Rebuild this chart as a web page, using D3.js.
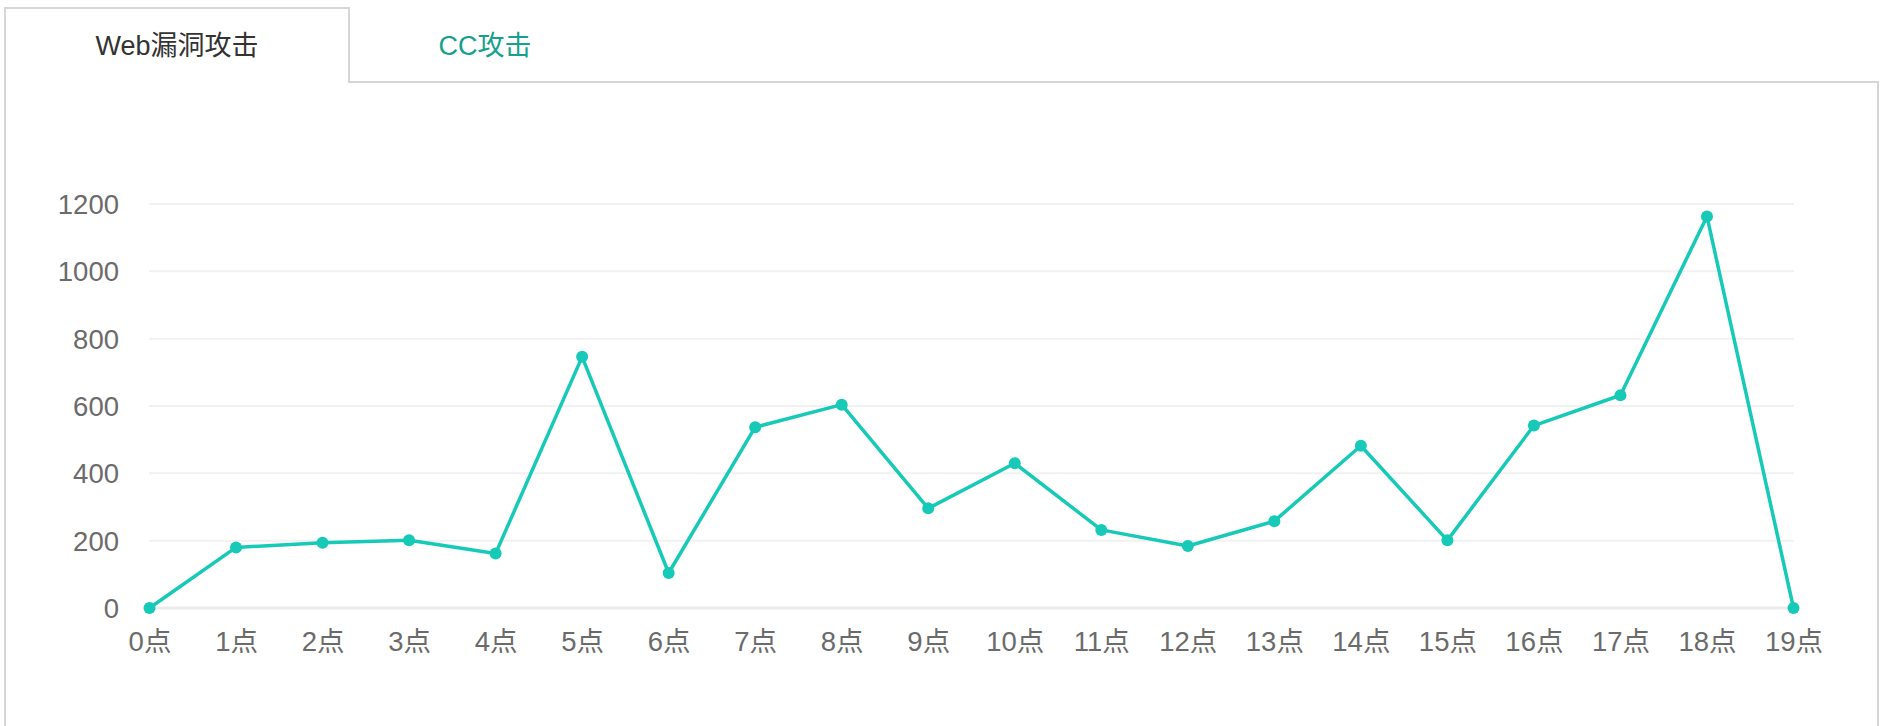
<!DOCTYPE html>
<html>
<head>
<meta charset="utf-8">
<script src="https://cdn.jsdelivr.net/npm/d3@7"></script>
<style>
  html, body { margin: 0; padding: 0; background: #fff; }
  svg { display: block; font-family: "Liberation Sans", Arial, "Noto Sans CJK SC", sans-serif; }
</style>
</head>
<body>
<svg id="chart" width="1882" height="726"></svg>
<script>
const tabs = ["Web漏洞攻击", "CC攻击"];
const categories = ["0点","1点","2点","3点","4点","5点","6点","7点","8点","9点","10点","11点","12点","13点","14点","15点","16点","17点","18点","19点"];
const values = [0, 180, 194, 201, 162, 746, 104, 537, 604, 296, 430, 232, 184, 258, 482, 201, 542, 632, 1163, 0];
const yTicks = [0, 200, 400, 600, 800, 1000, 1200];

const svg = d3.select("#chart");
const FONT = "\"Liberation Sans\", Arial, \"Noto Sans CJK SC\", sans-serif";

// tab frame
svg.append("path")
  .attr("d", "M5,726 L5,8 L349,8 L349,82 L1878,82 L1878,726")
  .attr("fill", "none")
  .attr("stroke", "#d6d6d6")
  .attr("stroke-width", 2);

svg.append("text").text(tabs[0])
  .attr("x", 177).attr("y", 46)
  .attr("text-anchor", "middle").attr("dominant-baseline", "central")
  .attr("font-size", 27).attr("fill", "#333");
svg.append("text").text(tabs[1])
  .attr("x", 485).attr("y", 46)
  .attr("text-anchor", "middle").attr("dominant-baseline", "central")
  .attr("font-size", 27).attr("fill", "#17a08b");

const x = d3.scalePoint().domain(categories).range([149.5, 1793.5]);
const y = d3.scaleLinear().domain([0, 1200]).range([608, 204]);

// gridlines
svg.append("g").selectAll("line").data(yTicks).join("line")
  .attr("x1", 149).attr("x2", 1794)
  .attr("y1", d => y(d)).attr("y2", d => y(d))
  .attr("stroke", d => d === 0 ? "#ebebeb" : "#f1f1f1")
  .attr("stroke-width", d => d === 0 ? 3 : 2);

// y axis labels
const yAxis = d3.axisLeft(y).tickValues(yTicks).tickFormat(d3.format("d")).tickSize(0).tickPadding(0);
const gy = svg.append("g").attr("transform", "translate(119,0)").call(yAxis);
gy.select(".domain").remove();
gy.selectAll("text").attr("font-size", 27.5).attr("fill", "#6b6b6b")
  .attr("font-family", FONT)
  .attr("dy", null).attr("dominant-baseline", "central").attr("text-anchor", "end");

// x axis labels
const xAxis = d3.axisBottom(x).tickSize(0).tickPadding(0);
const gx = svg.append("g").attr("transform", "translate(0,641)").call(xAxis);
gx.select(".domain").remove();
gx.selectAll("text").attr("font-size", 27.5).attr("fill", "#6b6b6b")
  .attr("font-family", FONT)
  .attr("y", 0).attr("dy", null).attr("dominant-baseline", "central");

// line
const line = d3.line().x((d, i) => x(categories[i])).y(d => y(d));
svg.append("path").datum(values)
  .attr("d", line)
  .attr("fill", "none")
  .attr("stroke", "#17c9b7")
  .attr("stroke-width", 3.5)
  .attr("stroke-linejoin", "round");

svg.append("g").selectAll("circle").data(values).join("circle")
  .attr("cx", (d, i) => x(categories[i]))
  .attr("cy", d => y(d))
  .attr("r", 6)
  .attr("fill", "#17c9b7");
</script>
</body>
</html>
